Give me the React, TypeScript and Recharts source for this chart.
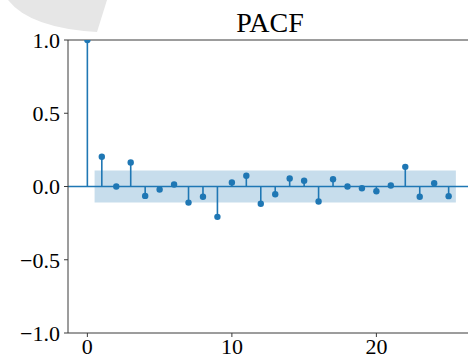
import { ComposedChart, Scatter, XAxis, YAxis, ReferenceLine, ReferenceArea } from 'recharts'

// PACF values by lag
const lags = [0, 1, 2, 3, 4, 5, 6, 7, 8, 9, 10, 11, 12, 13, 14, 15, 16, 17, 18, 19, 20, 21, 22, 23, 24, 25]
const pacf = [
  1.0, 0.203, 0.0, 0.164, -0.064, -0.02, 0.014, -0.11, -0.07, -0.207, 0.027, 0.073, -0.118,
  -0.053, 0.055, 0.039, -0.102, 0.05, 0.0, -0.012, -0.032, 0.007, 0.134, -0.07, 0.022, -0.066,
]
// confidence band
const confLow = -0.11
const confHigh = 0.11
const bandStart = 0.5
const bandEnd = 25.5

const xTicks = [0, 10, 20]
const yTicks = [-1, -0.5, 0, 0.5, 1]

const data = lags.map((lag, i) => ({ lag, value: pacf[i] }))

const BLUE = '#1f77b4'
const SPINE = '#3a3a3a'
const FONT = 'Liberation Serif, Times New Roman, serif'

const fmtY = (v: number) => (v < 0 ? '\u2212' + Math.abs(v).toFixed(1) : v.toFixed(1))

const Dot = (props: any) => <circle cx={props.cx} cy={props.cy} r={3.2} fill={BLUE} />

const XTick = (props: any) => (
  <g transform={`translate(${props.x},${props.y})`}>
    <text x={0} y={0} dy={15} textAnchor="middle" fill="#000" fontSize={22} fontFamily={FONT}>
      {props.payload.value}
    </text>
  </g>
)

export default function App() {
  return (
    <div style={{ position: 'fixed', left: 0, top: 0, width: 468, height: 358, overflow: 'hidden', background: '#fff' }}>
      <svg width={130} height={40} style={{ position: 'absolute', left: 0, top: 0 }}>
        <path d="M 8 0 Q 30 28 97 32 L 107 0 Z" fill="#e6e6e6" />
      </svg>
      <div
        style={{
          position: 'absolute',
          left: 70,
          width: 400,
          top: 8,
          textAlign: 'center',
          fontFamily: FONT,
          fontSize: 28,
          color: '#000',
          lineHeight: '30px',
        }}
      >
        PACF
      </div>
      <ComposedChart
        width={480}
        height={358}
        data={data}
        margin={{ top: 40, right: 0, bottom: 0, left: 0 }}
        style={{ position: 'absolute', left: 0, top: 0 }}
      >
        <XAxis
          dataKey="lag"
          type="number"
          domain={[-1.34, 27.17]}
          allowDataOverflow
          ticks={xTicks}
          height={25}
          stroke={SPINE}
          tickSize={4}
          tick={XTick}
        />
        <YAxis
          dataKey="value"
          type="number"
          domain={[-1, 1]}
          allowDataOverflow
          ticks={yTicks}
          width={68}
          stroke={SPINE}
          tickSize={4}
          tickMargin={4}
          tickFormatter={fmtY}
          tick={{ fill: '#000', fontSize: 22, fontFamily: FONT }}
        />
        <ReferenceArea x1={bandStart} x2={bandEnd} y1={confLow} y2={confHigh} fill={BLUE} fillOpacity={0.25} stroke="none" />
        <ReferenceLine y={1} stroke={SPINE} strokeWidth={1} />
        {data.map((d) => (
          <ReferenceLine key={d.lag} segment={[{ x: d.lag, y: 0 }, { x: d.lag, y: d.value }]} stroke={BLUE} strokeWidth={1.6} />
        ))}
        <ReferenceLine y={0} stroke={BLUE} strokeWidth={1.6} />
        <Scatter dataKey="value" fill={BLUE} shape={Dot} isAnimationActive={false} />
      </ComposedChart>
    </div>
  )
}
